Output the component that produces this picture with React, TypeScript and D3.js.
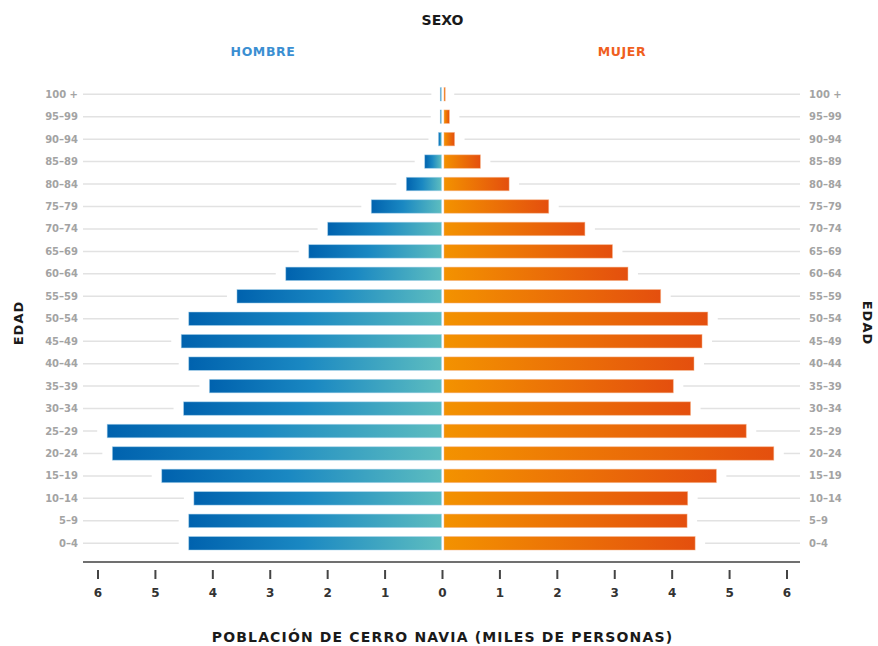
import * as d3 from 'd3'

// age groups, top to bottom
const AGES = ['100 +', '95–99', '90–94', '85–89', '80–84', '75–79', '70–74', '65–69', '60–64', '55–59',
  '50–54', '45–49', '40–44', '35–39', '30–34', '25–29', '20–24', '15–19', '10–14', '5–9', '0–4']

// thousands of people
const HOMBRE = [0.02, 0.03, 0.07, 0.31, 0.63, 1.24, 2.0, 2.33, 2.73, 3.58,
  4.42, 4.55, 4.42, 4.06, 4.51, 5.84, 5.75, 4.89, 4.33, 4.42, 4.42]
const MUJER = [0.03, 0.12, 0.21, 0.66, 1.16, 1.85, 2.48, 2.96, 3.23, 3.8,
  4.62, 4.52, 4.38, 4.02, 4.32, 5.29, 5.77, 4.77, 4.27, 4.26, 4.4]

const TICKS = [-6, -5, -4, -3, -2, -1, 0, 1, 2, 3, 4, 5, 6]

const W = 878
const H = 646
const FONT = '"DejaVu Sans", sans-serif'

export default function App() {
  const x = d3.scaleLinear().domain([-6, 6]).range([98, 787])
  const y = d3.scaleBand<string>().domain(AGES).range([83, 554.5]).paddingInner(0.4).paddingOuter(0.2)
  const cx = x(0)
  const bw = y.bandwidth()
  const axisY = 562
  const gap = 10

  return (
    <svg width={W} height={H} style={{ position: 'absolute', left: 0, top: 0, background: '#fff' }}>
      <defs>
        <linearGradient id="gH" x1="0" x2="1" y1="0" y2="0">
          <stop offset="0%" stopColor="#0062ae" />
          <stop offset="45%" stopColor="#1a88c2" />
          <stop offset="100%" stopColor="#5dbdc0" />
        </linearGradient>
        <linearGradient id="gM" x1="0" x2="1" y1="0" y2="0">
          <stop offset="0%" stopColor="#f39200" />
          <stop offset="100%" stopColor="#e44f0e" />
        </linearGradient>
      </defs>

      {/* titles */}
      <text x={cx} y={25} textAnchor="middle" fontFamily={FONT} fontWeight="bold" fontSize={14} fill="#1a1a1a">SEXO</text>
      <text x={263} y={56} textAnchor="middle" fontFamily={FONT} fontWeight="bold" fontSize={12.5} letterSpacing={0.6} fill="#3b8fd2">HOMBRE</text>
      <text x={622} y={56} textAnchor="middle" fontFamily={FONT} fontWeight="bold" fontSize={12.5} letterSpacing={0.6} fill="#f0601e">MUJER</text>

      {/* grid lines + bars */}
      {AGES.map((a, i) => {
        const yc = (y(a) ?? 0) + bw / 2
        const xl = x(-HOMBRE[i])
        const xr = x(MUJER[i])
        return (
          <g key={a}>
            <line x1={83} x2={xl - gap} y1={yc} y2={yc} stroke="#e2e2e2" strokeWidth={1.5} />
            <line x1={xr + gap} x2={800} y1={yc} y2={yc} stroke="#e2e2e2" strokeWidth={1.5} />
            <rect x={Math.min(xl, cx - 2.2)} y={y(a)} width={Math.max(cx - 1 - xl, 1.2)} height={bw} fill="url(#gH)"
              stroke="#a9d3ec" strokeOpacity={0.6} strokeWidth={0.8} />
            <rect x={cx + 1.5} y={y(a)} width={Math.max(xr - cx - 1.5, 1.2)} height={bw} fill="url(#gM)"
              stroke="#f7b48a" strokeOpacity={0.6} strokeWidth={0.8} />
            <text x={78} y={yc + 3.5} textAnchor="end" fontFamily={FONT} fontSize={10} fontWeight="600" fill="#a3a3a3">{a}</text>
            <text x={809} y={yc + 3.5} fontFamily={FONT} fontSize={10} fontWeight="600" fill="#a3a3a3">{a}</text>
          </g>
        )
      })}

      {/* x axis */}
      <line x1={83} x2={800} y1={axisY} y2={axisY} stroke="#707070" strokeWidth={2} />
      {TICKS.map(t => (
        <g key={t} transform={`translate(${x(t)},0)`}>
          <line y1={570} y2={579} stroke="#444" strokeWidth={2} />
          <text y={597} textAnchor="middle" fontFamily={FONT} fontWeight="bold" fontSize={12} fill="#333">{Math.abs(t)}</text>
        </g>
      ))}

      <text x={cx} y={642} textAnchor="middle" fontFamily={FONT} fontWeight="bold" fontSize={14} letterSpacing={1.15} fill="#1a1a1a">
        POBLACIÓN DE CERRO NAVIA (MILES DE PERSONAS)
      </text>

      {/* EDAD labels */}
      <text transform={`translate(23,323) rotate(-90)`} textAnchor="middle" fontFamily={FONT} fontWeight="bold" fontSize={13} letterSpacing={1} fill="#1a1a1a">EDAD</text>
      <text transform={`translate(863,323) rotate(90)`} textAnchor="middle" fontFamily={FONT} fontWeight="bold" fontSize={13} letterSpacing={1} fill="#1a1a1a">EDAD</text>
    </svg>
  )
}
